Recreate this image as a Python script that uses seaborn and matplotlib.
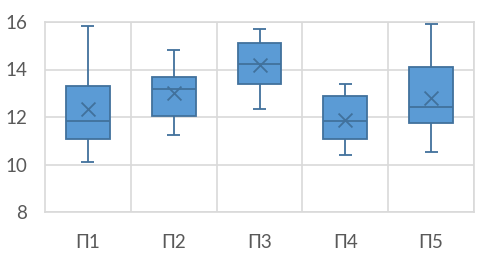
import matplotlib
matplotlib.use("Agg")
import matplotlib.pyplot as plt
import seaborn as sns
import pandas as pd
import numpy as np

categories = ["П1", "П2", "П3", "П4", "П5"]
mins    = [10.12, 11.24, 12.32, 10.40, 10.51]
q1s     = [11.06, 12.03, 13.39, 11.07, 11.75]
medians = [11.83, 13.19, 14.24, 11.83, 12.42]
q3s     = [13.29, 13.70, 15.10, 12.90, 14.12]
maxs    = [15.83, 14.82, 15.72, 13.40, 15.93]
means   = [12.34, 13.00, 14.19, 11.87, 12.81]
yticks  = [8, 10, 12, 14, 16]

rows = []
for c, a, b, m, d, e in zip(categories, mins, q1s, medians, q3s, maxs):
    for v in (a, b, m, d, e):
        rows.append({"cat": c, "val": v})
df = pd.DataFrame(rows)
dmean = pd.DataFrame({"cat": categories, "val": means})

sns.set_theme(style="white")
plt.rcParams["font.family"] = ["Lato", "Noto Sans", "DejaVu Sans"]

fill = "#5B9BD5"
edge = "#41719C"
grid = "#D9D9D9"
txt = "#595959"

fig = plt.figure(figsize=(4.8, 2.7), dpi=100)
ax = fig.add_axes([45/480, 1-212/270, (474-45)/480, (212-22)/270])

sns.boxplot(data=df, x="cat", y="val", order=categories, whis=(0, 100),
            width=0.51, color=fill, linecolor=edge, linewidth=1.3,
            saturation=1, showfliers=False, showcaps=False, ax=ax,
            boxprops=dict(facecolor=fill, edgecolor=edge),
            whiskerprops=dict(color=edge),
            medianprops=dict(color=edge))

# short whisker caps at the min / max of each category
pos = np.arange(len(categories))
cap_half = 0.075
ax.hlines(mins, pos - cap_half, pos + cap_half, color=edge, linewidth=1.3, zorder=3)
ax.hlines(maxs, pos - cap_half, pos + cap_half, color=edge, linewidth=1.3, zorder=3)

sns.scatterplot(data=dmean, x="cat", y="val", marker="x", s=100,
                color=edge, linewidth=1.3, ax=ax, zorder=5, legend=False)

ax.set_ylim(8, 16)
ax.set_xlim(-0.5, 4.5)
ax.set_yticks(yticks)
ax.set_xticks(pos + 0.5, minor=True)
ax.grid(True, which="major", axis="y", color=grid, linewidth=1.2)
ax.grid(True, which="minor", axis="x", color=grid, linewidth=1.2)
ax.set_axisbelow(True)
for s in ax.spines.values():
    s.set_color(grid)
    s.set_linewidth(1.2)
ax.tick_params(axis="both", which="both", length=0, colors=txt, labelsize=13.5)
ax.tick_params(axis="y", pad=13)
ax.tick_params(axis="x", pad=16)
ax.set_xlabel("")
ax.set_ylabel("")

fig.savefig("out.png", dpi=100)
